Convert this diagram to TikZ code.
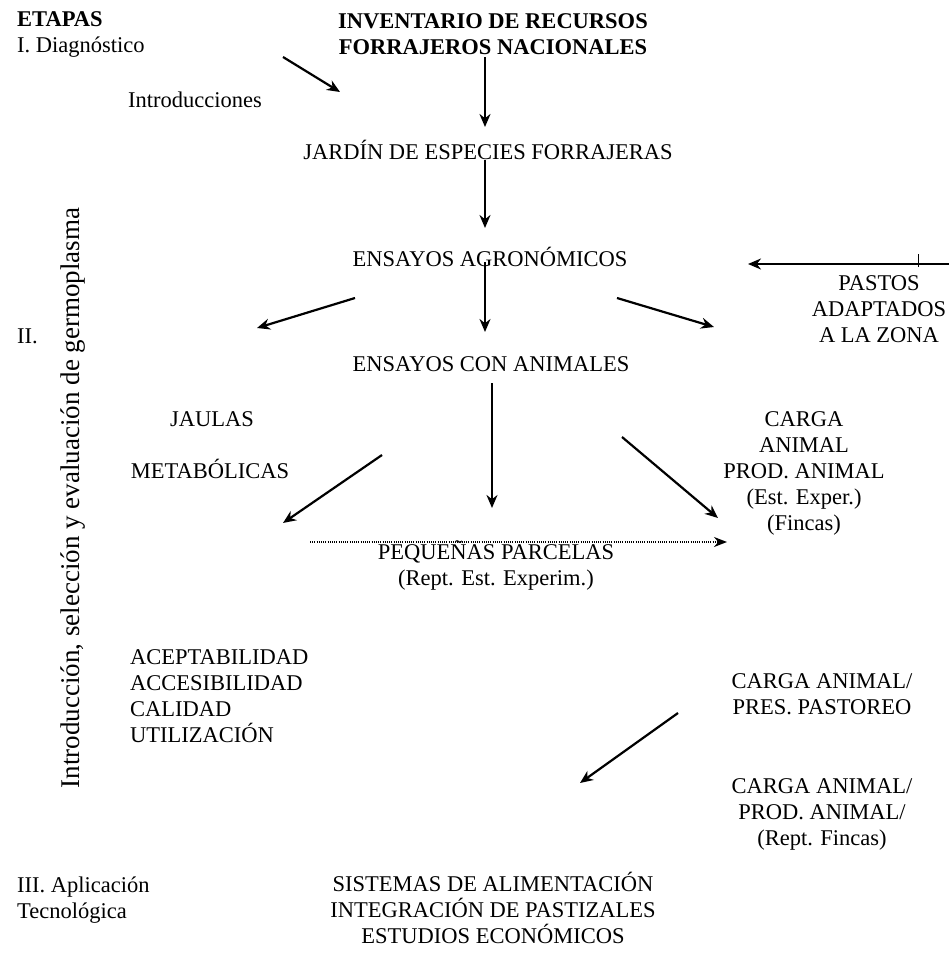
\documentclass[tikz,border=0pt]{standalone}
\usepackage{fontspec}
\setmainfont{Liberation Serif}
\usetikzlibrary{arrows.meta}
\begin{document}
\begin{tikzpicture}[x=1pt,y=-1pt,
  txt/.style={font=\fontsize{22.5}{26}\selectfont, inner sep=0pt, align=center, anchor=base},
  ltxt/.style={font=\fontsize{22.5}{26}\selectfont, inner sep=0pt, align=left, anchor=base west},
  btxt/.style={font=\fontsize{22.5}{26}\selectfont\bfseries, inner sep=0pt, align=center, anchor=base},
  arr/.style={line width=2.2pt, -{Stealth[length=13pt,width=11pt]}},
  dotarr/.style={line width=1.5pt, dash pattern=on 1pt off 1.2pt, -{Stealth[length=13pt,width=10pt]}}]
\useasboundingbox (0,0) rectangle (948,961);
% texts (base anchor of a multi-line node = baseline of its last line)
\node[btxt, anchor=base west] (etapas) at (17,27) {ETAPAS};
\node[ltxt] (diag) at (17,52) {I. Diagnóstico};
\node[btxt] (inv) at (493,54) {INVENTARIO DE RECURSOS\\FORRAJEROS NACIONALES};
\node[ltxt] (intro) at (128,107) {Introducciones};
\node[txt] (jardin) at (488,159) {JARDÍN DE ESPECIES FORRAJERAS};
\node[txt] (agro) at (490,266) {ENSAYOS AGRONÓMICOS};
\node[txt] (pastos) at (879,342) {PASTOS\\ADAPTADOS\\A LA ZONA};
\node[ltxt] (two) at (17,343) {II.};
\node[txt] (anim) at (491,371) {ENSAYOS CON ANIMALES};
\node[txt] (jaulas) at (212,426) {JAULAS};
\node[txt] (metab) at (210,478) {METABÓLICAS};
\node[txt] (carga) at (804,530) {CARGA\\ANIMAL\\PROD. ANIMAL\\(Est. Exper.)\\(Fincas)};
\node[txt] (parcelas) at (496,585) {PEQUEÑAS PARCELAS\\(Rept. Est. Experim.)};
\node[ltxt] (acep) at (130,742) {ACEPTABILIDAD\\ACCESIBILIDAD\\CALIDAD\\UTILIZACIÓN};
\node[txt] (pres) at (822,714) {CARGA ANIMAL/\\PRES. PASTOREO};
\node[txt] (prod) at (822,845) {CARGA ANIMAL/\\PROD. ANIMAL/\\(Rept. Fincas)};
\node[ltxt] (three) at (17,918) {III. Aplicación\\Tecnológica};
\node[txt] (sist) at (493,943) {SISTEMAS DE ALIMENTACIÓN\\INTEGRACIÓN DE PASTIZALES\\ESTUDIOS ECONÓMICOS};
\node[font=\fontsize{27}{30}\selectfont, inner sep=0pt, rotate=90] (vert) at (73,498) {Introducción, selección y evaluación de germoplasma};
% arrow end points
\coordinate (i1) at (283,57); \coordinate (i2) at (340,92);
\coordinate (t1) at (485,57); \coordinate (t2) at (485,127);
\coordinate (j1) at (485,160); \coordinate (j2) at (485,228);
\coordinate (a1) at (485,262); \coordinate (a2) at (485,332);
\coordinate (l1) at (355,298); \coordinate (l2) at (257,328);
\coordinate (r1) at (617,298); \coordinate (r2) at (714,327);
\coordinate (p1) at (950,264); \coordinate (p2) at (748,264);
\coordinate (k1) at (918,254); \coordinate (k2) at (918,267);
\coordinate (m1) at (382,455); \coordinate (m2) at (283,523);
\coordinate (c1) at (492,383); \coordinate (c2) at (492,508);
\coordinate (n1) at (622,437); \coordinate (n2) at (718,518);
\coordinate (d1) at (310,542); \coordinate (d2) at (727,542);
\coordinate (q1) at (678,713); \coordinate (q2) at (580,783);
% connectors
\draw[arr] (i1) -- (i2);
\draw[arr] (t1) -- (t2);
\draw[arr] (j1) -- (j2);
\draw[arr] (a1) -- (a2);
\draw[arr] (l1) -- (l2);
\draw[arr] (r1) -- (r2);
\draw[arr] (p1) -- (p2);
\draw[line width=1pt] (k1) -- (k2);
\draw[arr] (m1) -- (m2);
\draw[arr] (c1) -- (c2);
\draw[arr] (n1) -- (n2);
\draw[dotarr] (d1) -- (d2);
\draw[arr] (q1) -- (q2);
\end{tikzpicture}
\end{document}
